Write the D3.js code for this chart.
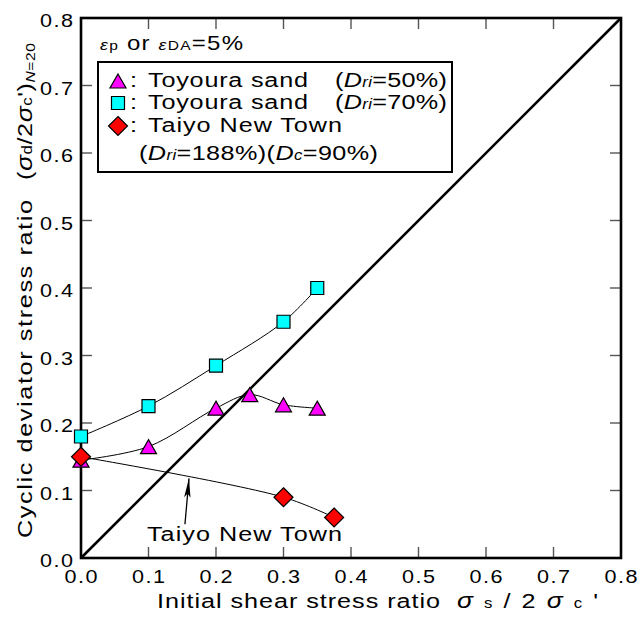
<!DOCTYPE html>
<html>
<head>
<meta charset="utf-8">
<script src="https://cdn.jsdelivr.net/npm/d3@7"></script>
<style>
  body { margin: 0; background: #fff; }
  text { font-family: "Liberation Sans", Arial, sans-serif; fill: #000; }
</style>
</head>
<body>
<div id="chart"></div>
<script>
const W = 640, H = 617;
const margin = {left: 81, top: 18, right: 19, bottom: 59};
const pw = W - margin.left - margin.right;   // 540
const ph = H - margin.top - margin.bottom;   // 540
const SX = 1.2; // the original font is drawn wide

// data
const ticks = [0, 0.1, 0.2, 0.3, 0.4, 0.5, 0.6, 0.7, 0.8];
const toy50X = [0, 0.1, 0.2, 0.25, 0.3, 0.35];
const toy50Y = [0.145, 0.165, 0.222, 0.242, 0.227, 0.222];
const toy70X = [0, 0.1, 0.2, 0.3, 0.35];
const toy70Y = [0.18, 0.225, 0.285, 0.35, 0.40];
const taiyoX = [0, 0.3, 0.375];
const taiyoY = [0.15, 0.09, 0.06];
const arrowFrom = [0.154, 0.050];
const arrowTo = [0.160, 0.118];

const svg = d3.select('#chart').append('svg')
  .attr('width', W)
  .attr('height', H);

const x = d3.scaleLinear().domain([0, 0.8]).range([margin.left, margin.left + pw]);
const y = d3.scaleLinear().domain([0, 0.8]).range([margin.top + ph, margin.top]);

// wide text helper: stretched, then spaced out to the measured width
function wideText(px, py, anchor, size, len, rot) {
  const g = svg.append('g')
    .attr('transform', `translate(${px},${py})` + (rot ? ` rotate(${rot})` : '') + ` scale(${SX},1)`);
  const t = g.append('text')
    .attr('text-anchor', anchor || 'start')
    .attr('font-size', size);
  if (len) t.attr('textLength', len / SX).attr('lengthAdjust', 'spacing');
  return t;
}

// inner ticks on all four sides
const tickIn = ticks.slice(1, -1);
const tickLen = 11;
tickIn.forEach(t => {
  svg.append('line').attr('x1', x(t)).attr('x2', x(t))
    .attr('y1', y(0)).attr('y2', y(0) - tickLen);
  svg.append('line').attr('x1', x(t)).attr('x2', x(t))
    .attr('y1', y(0.8)).attr('y2', y(0.8) + tickLen);
  svg.append('line').attr('x1', x(0)).attr('x2', x(0) + tickLen)
    .attr('y1', y(t)).attr('y2', y(t));
  svg.append('line').attr('x1', x(0.8)).attr('x2', x(0.8) - tickLen)
    .attr('y1', y(t)).attr('y2', y(t));
});
svg.selectAll('line').attr('stroke', '#555').attr('stroke-width', 1.4);

// tick labels
ticks.forEach(t => {
  wideText(x(t), y(0) + 25, 'middle', 18, 33).text(d3.format('.1f')(t));
  wideText(x(0) - 8, y(t) + 9, 'end', 18, 33).text(d3.format('.1f')(t));
});

// 1:1 line
svg.append('line')
  .attr('x1', x(0)).attr('y1', y(0))
  .attr('x2', x(0.8)).attr('y2', y(0.8))
  .attr('stroke', '#000').attr('stroke-width', 2.6);

// frame
svg.append('rect')
  .attr('x', x(0)).attr('y', y(0.8))
  .attr('width', pw).attr('height', ph)
  .attr('fill', 'none').attr('stroke', '#000').attr('stroke-width', 2.6);

// curves
const line = d3.line().x(d => x(d[0])).y(d => y(d[1])).curve(d3.curveCatmullRom.alpha(0.5));
const series = [
  {xs: toy50X, ys: toy50Y, shape: 'tri', fill: '#ff00ff'},
  {xs: toy70X, ys: toy70Y, shape: 'sq', fill: '#00ffff'},
  {xs: taiyoX, ys: taiyoY, shape: 'dia', fill: '#ff0000'}
];
series.forEach(s => {
  svg.append('path')
    .datum(s.xs.map((v, i) => [v, s.ys[i]]))
    .attr('d', line)
    .attr('fill', 'none').attr('stroke', '#000').attr('stroke-width', 1);
});

const shapes = {
  tri: 'M0,-7L8,7L-8,7Z',
  sq: 'M-6.5,-6.5L6.5,-6.5L6.5,6.5L-6.5,6.5Z',
  dia: 'M0,-9.5L9.5,0L0,9.5L-9.5,0Z'
};
function marker(px, py, s) {
  svg.append('path')
    .attr('d', shapes[s.shape])
    .attr('transform', `translate(${px},${py})`)
    .attr('fill', s.fill).attr('stroke', '#000').attr('stroke-width', 1.2);
}
series.forEach(s => {
  s.xs.forEach((v, i) => marker(x(v), y(s.ys[i]), s));
});

// arrow + label
svg.append('defs').append('marker')
  .attr('id', 'ah').attr('viewBox', '0 0 24 10')
  .attr('refX', 24).attr('refY', 5)
  .attr('markerWidth', 24).attr('markerHeight', 8)
  .attr('markerUnits', 'userSpaceOnUse').attr('orient', 'auto')
  .append('path').attr('d', 'M0,1L24,5L0,9L5,5Z').attr('fill', '#000');
svg.append('line')
  .attr('x1', x(arrowFrom[0])).attr('y1', y(arrowFrom[1]))
  .attr('x2', x(arrowTo[0])).attr('y2', y(arrowTo[1]))
  .attr('stroke', '#000').attr('stroke-width', 1.3)
  .attr('marker-end', 'url(#ah)');
wideText(147, y(0.025), 'start', 21, 195).text('Taiyo New Town');

// condition note
const note = wideText(100, 50, 'start', 20, 143);
note.append('tspan').attr('font-style', 'italic').attr('font-size', 15).text('ε');
note.append('tspan').attr('font-size', 13).text('p');
note.append('tspan').text(' or ');
note.append('tspan').attr('font-style', 'italic').attr('font-size', 15).text('ε');
note.append('tspan').attr('font-size', 13).text('DA');
note.append('tspan').text('=5%');

// legend box
svg.append('rect')
  .attr('x', 98).attr('y', 62).attr('width', 354).attr('height', 110)
  .attr('fill', '#fff').attr('stroke', '#000').attr('stroke-width', 2);

const legRows = [
  {s: series[0], name: 'Toyoura sand', len: 160, dr: '50%)', yy: 87},
  {s: series[1], name: 'Toyoura sand', len: 160, dr: '70%)', yy: 109},
  {s: series[2], name: 'Taiyo New Town', len: 194, dr: null, yy: 132}
];
legRows.forEach(r => {
  marker(118, r.yy - 6, r.s);
  wideText(130, r.yy, 'start', 21).text(':');
  wideText(148, r.yy, 'start', 21, r.len).text(r.name);
  if (r.dr) {
    const t = wideText(335, r.yy, 'start', 21, 112);
    t.append('tspan').text('(');
    t.append('tspan').attr('font-style', 'italic').text('D');
    t.append('tspan').attr('font-style', 'italic').attr('font-size', 14).text('ri');
    t.append('tspan').text('=' + r.dr);
  }
});
const row4 = wideText(139, 160, 'start', 21, 239);
row4.append('tspan').text('(');
row4.append('tspan').attr('font-style', 'italic').text('D');
row4.append('tspan').attr('font-style', 'italic').attr('font-size', 14).text('ri');
row4.append('tspan').text('=188%)(');
row4.append('tspan').attr('font-style', 'italic').text('D');
row4.append('tspan').attr('font-style', 'italic').attr('font-size', 14).text('c');
row4.append('tspan').text('=90%)');

// x axis title
wideText(157, 608, 'start', 21, 283).text('Initial shear stress ratio');
const xf = wideText(457, 608, 'start', 21, 141);
xf.append('tspan').attr('font-style', 'italic').attr('font-size', 22).text('σ');
xf.append('tspan').attr('font-size', 14).text('s');
xf.append('tspan').text('/2');
xf.append('tspan').attr('font-style', 'italic').attr('font-size', 22).text('σ');
xf.append('tspan').attr('font-size', 14).text('c');
xf.append('tspan').text("'");

// y axis title
wideText(32, 538, 'start', 21, 338, -90).text('Cyclic deviator stress ratio');
const yf = wideText(32, 180, 'start', 21, 137, -90);
yf.append('tspan').text('(');
yf.append('tspan').attr('font-style', 'italic').attr('font-size', 22).text('σ');
yf.append('tspan').attr('font-size', 14).text('d');
yf.append('tspan').text('/2');
yf.append('tspan').attr('font-style', 'italic').attr('font-size', 22).text('σ');
yf.append('tspan').attr('font-size', 14).text('c');
yf.append('tspan').text("')");
yf.append('tspan').attr('font-style', 'italic').attr('font-size', 13).attr('dy', 3).text('N');
yf.append('tspan').attr('font-size', 13).text('=20');
</script>
</body>
</html>
